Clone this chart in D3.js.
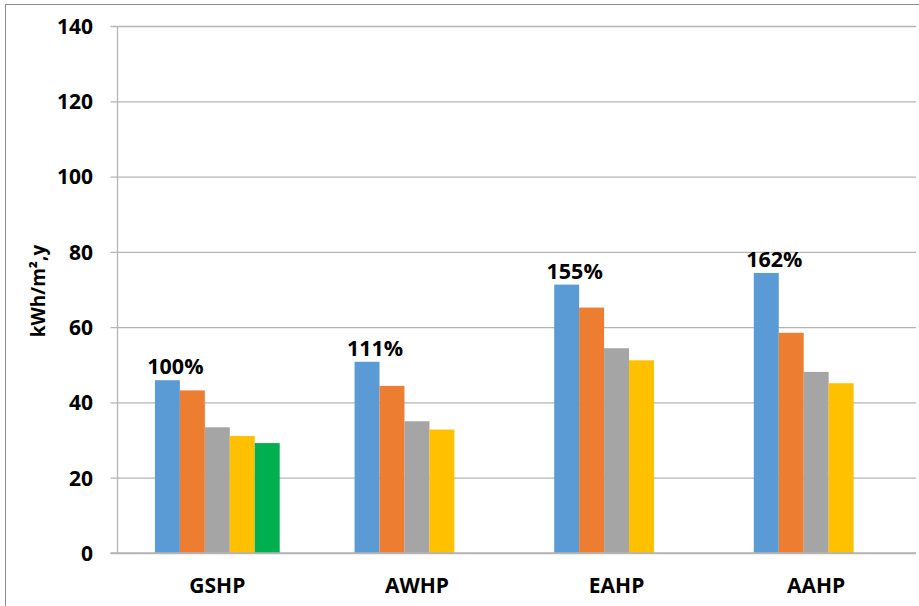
<!DOCTYPE html>
<html><head><meta charset="utf-8">
<script src="https://cdn.jsdelivr.net/npm/d3@7"></script>
<style>
html,body{margin:0;padding:0;background:#fff;}
svg{display:block;font-family:"Open Sans",sans-serif;}
</style></head>
<body>
<svg id="chart" width="919" height="606"></svg>
<script>
const categories = ["GSHP", "AWHP", "EAHP", "AAHP"];
const seriesNames = ["S1", "S2", "S3", "S4", "S5"];
const series1 = [45.9, 50.8, 71.3, 74.4];
const series2 = [43.2, 44.4, 65.2, 58.5];
const series3 = [33.4, 35.0, 54.4, 48.1];
const series4 = [31.1, 32.8, 51.2, 45.1];
const series5 = [29.2, null, null, null];
const percentLabels = ["100%", "111%", "155%", "162%"];
const yTicks = [0, 20, 40, 60, 80, 100, 120, 140];
const colors = ["#5B9BD5", "#ED7D31", "#A5A5A5", "#FFC000", "#00B050"];
const yTitle = "kWh/m\u00B2,y";

const allSeries = [series1, series2, series3, series4, series5];

const svg = d3.select("#chart");
const M = {left: 117.5, right: 916, top: 26, bottom: 553};

// outer frame
svg.append("rect").attr("x", 5.5).attr("y", 4.5).attr("width", 930).attr("height", 620)
  .attr("fill", "none").attr("stroke", "#8c8c8c").attr("stroke-width", 1);

const x0 = d3.scaleBand().domain(categories).range([M.left, M.right]).paddingInner(0).paddingOuter(0);
const groupW = 125 / 200;
const x1 = d3.scaleBand().domain(seriesNames)
  .range([x0.bandwidth() * (1 - groupW) / 2, x0.bandwidth() * (1 + groupW) / 2]);
const y = d3.scaleLinear().domain([0, 140]).range([M.bottom, M.top]);

// gridlines
const yAxis = d3.axisLeft(y).tickValues(yTicks).tickSize(-(M.right - M.left)).tickFormat("");
const gGrid = svg.append("g").attr("transform", `translate(${M.left},0)`).call(yAxis);
gGrid.select(".domain").remove();
gGrid.selectAll("line").attr("stroke", "#b4b4b4").attr("stroke-width", 1.3)
  .attr("x1", -7);

// bars
categories.forEach((c, i) => {
  allSeries.forEach((s, j) => {
    const v = s[i];
    if (v == null) return;
    svg.append("rect")
      .attr("x", x0(c) + x1(seriesNames[j]))
      .attr("y", y(v))
      .attr("width", x1.bandwidth())
      .attr("height", y(0) - y(v))
      .attr("fill", colors[j]);
  });
});

// left axis line
svg.append("line").attr("x1", M.left).attr("x2", M.left).attr("y1", M.top).attr("y2", M.bottom)
  .attr("stroke", "#b4b4b4").attr("stroke-width", 1.3);
// baseline
svg.append("line").attr("x1", M.left - 7).attr("x2", M.right).attr("y1", y(0)).attr("y2", y(0))
  .attr("stroke", "#b4b4b4").attr("stroke-width", 1.5);

// y tick labels
const yLab = d3.axisLeft(y).tickValues(yTicks).tickSize(0).tickPadding(0);
const gY = svg.append("g").attr("transform", `translate(93,0)`).call(yLab);
gY.select(".domain").remove();
gY.selectAll("text").attr("font-family", "'Open Sans',sans-serif").attr("font-size", 21)
  .attr("font-weight", "bold").attr("fill", "#000").attr("text-anchor", "end").attr("dy", "0.35em");

// category labels
const xLab = d3.axisBottom(x0).tickSize(0).tickPadding(0);
const gX = svg.append("g").attr("transform", `translate(0,586)`).call(xLab);
gX.select(".domain").remove();
gX.selectAll("text").attr("font-family", "'Open Sans',sans-serif").attr("font-size", 21)
  .attr("font-weight", "bold").attr("fill", "#000").attr("dy", "0.35em");

// percent labels
categories.forEach((c, i) => {
  svg.append("text")
    .attr("x", x0(c) + x1(seriesNames[0]) + x1.bandwidth() / 2 + 8)
    .attr("y", y(series1[i]) - 6)
    .attr("text-anchor", "middle")
    .attr("font-size", 21.5).attr("font-weight", "bold").attr("fill", "#000")
    .text(percentLabels[i]);
});

// y title
svg.append("text")
  .attr("transform", "translate(38,291) rotate(-90)")
  .attr("text-anchor", "middle").attr("dominant-baseline", "central")
  .attr("font-size", 19).attr("font-weight", "bold").attr("fill", "#000")
  .text(yTitle);
</script>
</body></html>
